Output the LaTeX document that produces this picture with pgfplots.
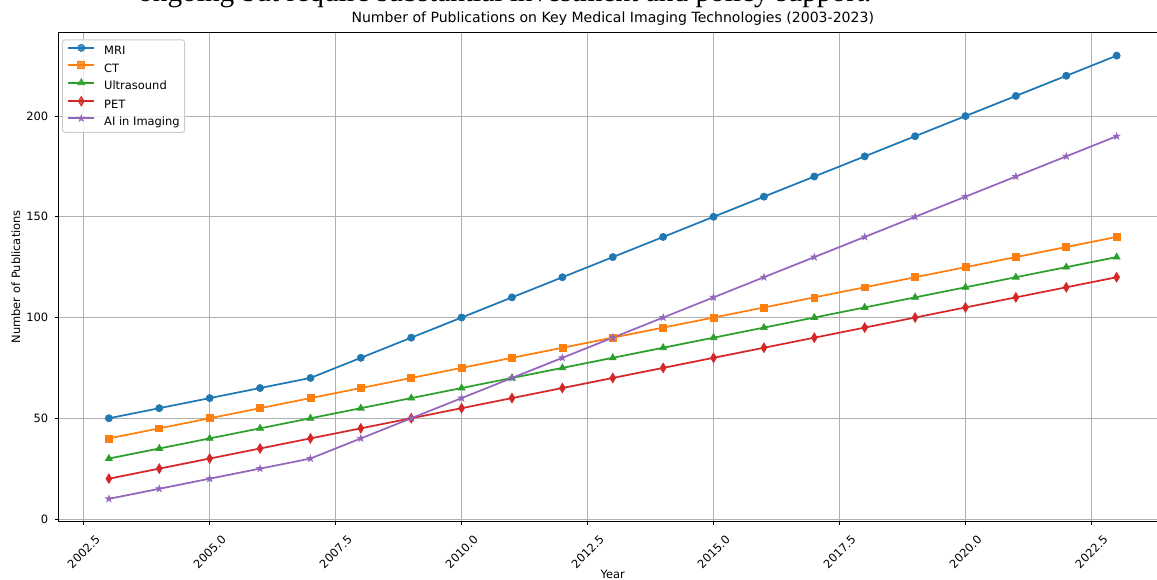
\documentclass[border=0pt]{standalone}
\usepackage{fontspec}
\setmainfont{DejaVu Sans}
\newfontfamily\seriffont{Liberation Serif}
\usepackage{pgfplots}
\pgfplotsset{compat=1.18}
\definecolor{c0}{HTML}{1F77B4}
\definecolor{c1}{HTML}{FF7F0E}
\definecolor{c2}{HTML}{2CA02C}
\definecolor{c3}{HTML}{D62728}
\definecolor{c4}{HTML}{9467BD}
\definecolor{gridc}{HTML}{B0B0B0}
\definecolor{legc}{HTML}{CCCCCC}
\pgfdeclareplotmark{fstar}{%
  \pgfpathmoveto{\pgfqpoint{0pt}{\pgfplotmarksize}}%
  \pgfpathlineto{\pgfqpoint{-0.2245\pgfplotmarksize}{0.309\pgfplotmarksize}}%
  \pgfpathlineto{\pgfqpoint{-0.951\pgfplotmarksize}{0.309\pgfplotmarksize}}%
  \pgfpathlineto{\pgfqpoint{-0.363\pgfplotmarksize}{-0.118\pgfplotmarksize}}%
  \pgfpathlineto{\pgfqpoint{-0.588\pgfplotmarksize}{-0.809\pgfplotmarksize}}%
  \pgfpathlineto{\pgfqpoint{0pt}{-0.382\pgfplotmarksize}}%
  \pgfpathlineto{\pgfqpoint{0.588\pgfplotmarksize}{-0.809\pgfplotmarksize}}%
  \pgfpathlineto{\pgfqpoint{0.363\pgfplotmarksize}{-0.118\pgfplotmarksize}}%
  \pgfpathlineto{\pgfqpoint{0.951\pgfplotmarksize}{0.309\pgfplotmarksize}}%
  \pgfpathlineto{\pgfqpoint{0.2245\pgfplotmarksize}{0.309\pgfplotmarksize}}%
  \pgfpathclose\pgfusepathqfillstroke}
\pgfdeclareplotmark{thindiamond}{%
  \pgfpathmoveto{\pgfqpoint{0pt}{\pgfplotmarksize}}%
  \pgfpathlineto{\pgfqpoint{0.6\pgfplotmarksize}{0pt}}%
  \pgfpathlineto{\pgfqpoint{0pt}{-\pgfplotmarksize}}%
  \pgfpathlineto{\pgfqpoint{-0.6\pgfplotmarksize}{0pt}}%
  \pgfpathclose\pgfusepathqfillstroke}
\pgfplotsset{every axis title/.style={at={(0.5,1)}, anchor=south, yshift=5.25pt, inner sep=0pt,
    font=\fontsize{10.55}{12}\selectfont}}
\begin{document}
\begin{tikzpicture}
\begin{axis}[
  at={(0pt,0pt)}, anchor=south west,
  scale only axis, width=831.4pt, height=366.4pt,
  xmin=2002, xmax=2024, ymin=-1, ymax=241.5,
  xtick={2002.5,2005,2007.5,2010,2012.5,2015,2017.5,2020,2022.5},
  ytick={0,50,100,150,200},
  grid=major, grid style={color=gridc, line width=0.69pt},
  axis line style={line width=0.69pt, black},
  tick align=outside, major tick length=3pt,
  tick style={black, line width=0.69pt},
  xtick pos=bottom, ytick pos=left,
  /pgf/number format/assume math mode=true,
  ticklabel style={font=\fontsize{8.6}{10}\selectfont},
  x tick label style={yshift=-20.25pt, rotate=45, anchor=center, inner sep=0pt,
    /pgf/number format/.cd, fixed, fixed zerofill, precision=1, 1000 sep={}},
  y tick label style={anchor=east, inner sep=0pt, xshift=-4.5pt,
    /pgf/number format/.cd, fixed, precision=0, 1000 sep={}},
  title={Number of Publications on Key Medical Imaging Technologies (2003-2023)},
  xlabel={Year},
  xlabel style={at={(axis description cs:0.5,0)}, anchor=north, yshift=-36.5pt, inner sep=0pt,
    font=\fontsize{8.6}{10}\selectfont},
  ylabel={Number of Publications},
  ylabel style={at={(axis description cs:-0.03837,0.5)}, anchor=center, inner sep=0pt,
    font=\fontsize{8.6}{10}\selectfont},
  legend style={at={(axis description cs:0.0031,0.9857)}, anchor=north west,
    draw=legc, line width=0.75pt, rounded corners=2pt, fill=white, fill opacity=0.8, text opacity=1,
    font=\fontsize{8.6}{10}\selectfont, inner xsep=3.75pt, inner ysep=3.25pt,
    row sep=3pt, column sep=0pt,
    nodes={inner xsep=0pt, inner ysep=0pt, text height=6.5pt, text depth=2pt}},
  legend cell align=left,
  legend image code/.code={\draw[mark repeat=2,mark phase=2] plot coordinates {(0pt,3pt)(9.75pt,3pt)(19.5pt,3pt)}; \path (26.25pt,0pt);},
]
\addplot[color=c0, line width=1.3pt, mark=*, mark size=2.7pt, mark options={solid, line width=0.5pt}] coordinates {
(2003,50)(2004,55)(2005,60)(2006,65)(2007,70)(2008,80)(2009,90)(2010,100)(2011,110)(2012,120)(2013,130)
(2014,140)(2015,150)(2016,160)(2017,170)(2018,180)(2019,190)(2020,200)(2021,210)(2022,220)(2023,230)};
\addlegendentry{MRI}
\addplot[color=c1, line width=1.3pt, mark=square*, mark size=2.6pt, mark options={solid, line width=0.5pt}] coordinates {
(2003,40)(2004,45)(2005,50)(2006,55)(2007,60)(2008,65)(2009,70)(2010,75)(2011,80)(2012,85)(2013,90)
(2014,95)(2015,100)(2016,105)(2017,110)(2018,115)(2019,120)(2020,125)(2021,130)(2022,135)(2023,140)};
\addlegendentry{CT}
\addplot[color=c2, line width=1.3pt, mark=triangle*, mark size=3pt, mark options={solid, line width=0.5pt}] coordinates {
(2003,30)(2004,35)(2005,40)(2006,45)(2007,50)(2008,55)(2009,60)(2010,65)(2011,70)(2012,75)(2013,80)
(2014,85)(2015,90)(2016,95)(2017,100)(2018,105)(2019,110)(2020,115)(2021,120)(2022,125)(2023,130)};
\addlegendentry{Ultrasound}
\addplot[color=c3, line width=1.3pt, mark=thindiamond, mark size=3.66pt, mark options={solid, line width=0.5pt}] coordinates {
(2003,20)(2004,25)(2005,30)(2006,35)(2007,40)(2008,45)(2009,50)(2010,55)(2011,60)(2012,65)(2013,70)
(2014,75)(2015,80)(2016,85)(2017,90)(2018,95)(2019,100)(2020,105)(2021,110)(2022,115)(2023,120)};
\addlegendentry{PET}
\addplot[color=c4, line width=1.3pt, mark=fstar, mark size=2.6pt, mark options={solid, line width=0.5pt}] coordinates {
(2003,10)(2004,15)(2005,20)(2006,25)(2007,30)(2008,40)(2009,50)(2010,60)(2011,70)(2012,80)(2013,90)
(2014,100)(2015,110)(2016,120)(2017,130)(2018,140)(2019,150)(2020,160)(2021,170)(2022,180)(2023,190)};
\addlegendentry{AI in Imaging}
\end{axis}
\node[anchor=base west, inner sep=0pt, font=\seriffont\fontsize{22}{24}\selectfont] at (59.6pt,389.5pt)
  {ongoing but require substantial investment and policy support.};
\pgfresetboundingbox
\useasboundingbox (-43.875pt,-43.5pt) rectangle (823.875pt,390.75pt);
\end{tikzpicture}
\end{document}
